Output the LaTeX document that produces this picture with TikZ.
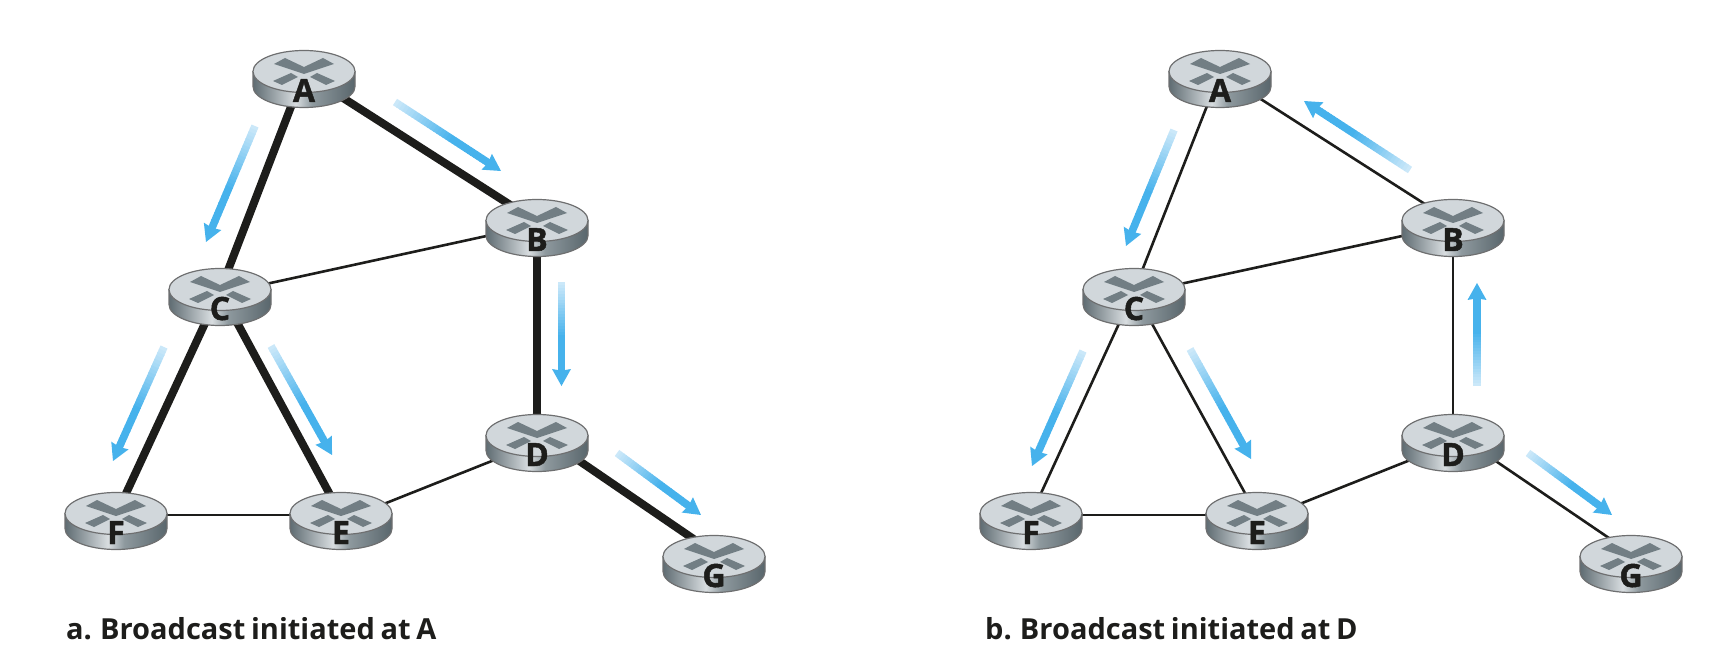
\documentclass[tikz,border=0pt]{standalone}
\usepackage{fontspec}
\setmainfont{Open Sans}
\newfontfamily\letterfont[BoldFeatures={FakeBold=1.5}]{Open Sans}
\newfontfamily\capfont[WordSpace=0.75]{Open Sans}
\usetikzlibrary{shapes.geometric}
\definecolor{topc}{HTML}{D1D7DB}
\definecolor{rimc}{HTML}{6E6F70}
\definecolor{xc}{HTML}{727E84}
\definecolor{linec}{HTML}{1D1D1B}
\definecolor{flowc}{HTML}{46B2EC}
\definecolor{flowl}{HTML}{CBE8F9}
\definecolor{sa}{HTML}{5F6C72}
\definecolor{sb}{HTML}{D8DDE0}
\definecolor{sc}{HTML}{8E999E}
\definecolor{sd}{HTML}{59666C}
\pgfdeclarehorizontalshading{routerside}{100bp}{color(0bp)=(sa); color(25bp)=(sa); color(46bp)=(sb); color(54bp)=(sc); color(75bp)=(sd); color(100bp)=(sd)}
\tikzset{
  hub/.style={ellipse,minimum width=90pt,minimum height=40pt,inner sep=0pt,yshift=6pt},
  thinlink/.style={draw=linec,line width=2.6pt},
  thicklink/.style={draw=linec,line width=8pt},
  letter/.style={font=\letterfont\bfseries\fontsize{32}{32}\selectfont,text=linec,anchor=base,inner sep=0pt},
  caption/.style={font=\capfont\bfseries\fontsize{29}{29}\selectfont,text=linec,anchor=base west,inner sep=0pt}
}
\newcommand{\router}[4]{%
  \begin{scope}[shift={(#2,#3)}]
    \shade[shading=routerside,draw=rimc,line width=1.2pt]
      (-51,-7.5) -- (-51,7.5) arc[start angle=180,end angle=0,x radius=51,y radius=21] -- (51,-7.5) -- cycle;
    \fill[topc,draw=rimc,line width=1.2pt] (0,-7.5) ellipse[x radius=51,y radius=21];
    \fill[xc] (-30,-15) -- (-19,-21) -- (0,-12) -- (19,-21) -- (30,-15) -- (0,-5) -- cycle;
    \fill[xc] (-31,2) -- (-13,-6) -- (-6,-2) -- (-22,6) -- cycle;
    \fill[xc] (31,2) -- (13,-6) -- (6,-2) -- (22,6) -- cycle;
    \node[letter] (#1l) at (0,23) {#4};
  \end{scope}}
\newcommand{\flow}[5]{%
  \coordinate (#1s) at (#2,#3);
  \coordinate (#1t) at (#4,#5);
  \pgfmathsetmacro{\fa}{atan2(-(#5-#3),#4-#2)}%
  \pgfmathsetmacro{\fl}{veclen(#4-#2,#5-#3)}%
  \pgfmathsetmacro{\fb}{\fl-16}%
  \begin{scope}[shift={(#1s)},rotate=\fa]
    \foreach \i in {0,...,29}{%
      \pgfmathsetmacro{\xa}{\i/30*\fb}%
      \pgfmathsetmacro{\xb}{(\i+1)/30*\fb+0.7}%
      \pgfmathtruncatemacro{\mx}{min(100,\i/29/0.62*100)}%
      \fill[flowc!\mx!flowl] (\xa,-3.8) rectangle (\xb,3.8);
    }
    \fill[flowc] (\fb-1,-9.5) -- (\fl,0) -- (\fb-1,9.5) -- (\fb,3.8) -- (\fb,-3.8) -- cycle;
  \end{scope}}
\begin{document}
\begin{tikzpicture}[x=1pt,y=-1pt]
\useasboundingbox (0,0) rectangle (1722,660);
% panel a hubs
\node[hub] (aA) at (304,79) {};
\node[hub] (aB) at (537,228) {};
\node[hub] (aC) at (220,297) {};
\node[hub] (aD) at (537,443) {};
\node[hub] (aE) at (341,521) {};
\node[hub] (aF) at (116,521) {};
\node[hub] (aG) at (714,564) {};
% panel b hubs
\node[hub] (bA) at (1220,79) {};
\node[hub] (bB) at (1453,228) {};
\node[hub] (bC) at (1134,297) {};
\node[hub] (bD) at (1453,443) {};
\node[hub] (bE) at (1257,521) {};
\node[hub] (bF) at (1031,521) {};
\node[hub] (bG) at (1631,564) {};
% links a
\draw[thicklink] (aA) -- (aC);
\draw[thicklink] (aA) -- (aB);
\draw[thinlink] ([yshift=-3pt]aC.center) -- ([yshift=-3pt]aB.center);
\draw[thicklink] (aB) -- (aD);
\draw[thicklink] (aC) -- (aF);
\draw[thicklink] (aC) -- (aE);
\draw[thinlink] (aF) -- (aE);
\draw[thinlink] ([yshift=-6pt]aE.center) -- ([yshift=-6pt]aD.center);
\draw[thicklink] ([yshift=5pt]aD.center) -- ([yshift=5pt]aG.center);
% links b
\draw[thinlink] (bA) -- (bC);
\draw[thinlink] (bA) -- (bB);
\draw[thinlink] ([yshift=-3pt]bC.center) -- ([yshift=-3pt]bB.center);
\draw[thinlink] (bB) -- (bD);
\draw[thinlink] (bC) -- (bF);
\draw[thinlink] (bC) -- (bE);
\draw[thinlink] (bF) -- (bE);
\draw[thinlink] ([yshift=-6pt]bE.center) -- ([yshift=-6pt]bD.center);
\draw[thinlink] ([yshift=5pt]bD.center) -- ([yshift=5pt]bG.center);
% routers
\router{raA}{304}{79}{A}
\router{raB}{537}{228}{B}
\router{raC}{220}{297}{C}
\router{raD}{537}{443}{D}
\router{raE}{341}{521}{E}
\router{raF}{116}{521}{F}
\router{raG}{714}{564}{G}
\router{rbA}{1220}{79}{A}
\router{rbB}{1453}{228}{B}
\router{rbC}{1134}{297}{C}
\router{rbD}{1453}{443}{D}
\router{rbE}{1257}{521}{E}
\router{rbF}{1031}{521}{F}
\router{rbG}{1631}{564}{G}
% flow arrows
\flow{f1}{255}{126}{206}{242}
\flow{f2}{395}{102}{501}{171}
\flow{f3}{561.5}{282}{561.5}{386}
\flow{f4}{164}{347}{113}{461}
\flow{f5}{271}{346}{332}{455}
\flow{f6}{617}{453}{701}{515}
\flow{g1}{1174}{130}{1126}{246}
\flow{g2}{1410}{170}{1304}{101}
\flow{g3}{1477}{386}{1477}{283}
\flow{g4}{1083}{351}{1032}{466}
\flow{g5}{1190}{349}{1251}{459}
\flow{g6}{1528}{453}{1612}{515}
% captions
\node[caption] (capa) at (66,639) {a. Broadcast initiated at A};
\node[caption] (capb) at (985,639) {b. Broadcast initiated at D};
\end{tikzpicture}
\end{document}
